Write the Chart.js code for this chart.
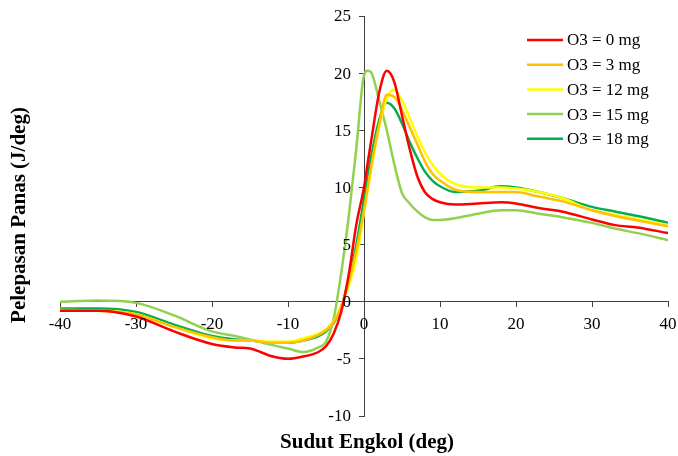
<!DOCTYPE html>
<html>
<head>
<meta charset="utf-8">
<script src="https://cdn.jsdelivr.net/npm/chart.js@4/dist/chart.umd.min.js"></script>
<style>
  html, body { margin: 0; padding: 0; background: #fff; }
</style>
</head>
<body>
<canvas id="heatChart" width="678" height="456"></canvas>
<script>
// crank angle (deg)
var angles = [-40,-35,-30,-25,-20,-17,-15,-12,-10,-8,-6,-5,-4,-3,-2,-1,0,0.5,1,2,3,4,5,6,7,8,9,10,12,15,18,20,23,26,30,33,36,40];

// heat release (J/deg) per ozone dose
var o3_0  = [-0.8,-0.8,-1.3,-2.6,-3.7,-4.0,-4.1,-4.8,-5.0,-4.8,-4.4,-3.9,-2.8,-0.9,2.4,6.8,10.0,12.2,14.3,18.3,20.2,19.2,16.3,13.4,11.0,9.6,9.0,8.7,8.5,8.6,8.7,8.6,8.2,7.9,7.2,6.7,6.5,6.0];
var o3_3  = [-0.7,-0.8,-1.1,-2.2,-3.1,-3.4,-3.4,-3.6,-3.6,-3.4,-2.9,-2.5,-1.8,-0.4,1.8,4.5,8.0,10.0,12.0,15.5,18.1,17.9,16.8,15.3,13.8,12.3,11.2,10.6,9.8,9.6,9.6,9.6,9.2,8.8,8.0,7.5,7.1,6.6];
var o3_12 = [-0.8,-0.8,-1.1,-2.2,-3.2,-3.4,-3.4,-3.5,-3.5,-3.2,-2.8,-2.4,-1.7,-0.5,1.4,3.8,7.8,9.8,11.8,15.3,17.8,18.55,17.6,16.1,14.5,13.1,12.0,11.2,10.3,10.0,10.0,9.9,9.6,9.1,8.0,7.6,7.2,6.7];
var o3_15 = [0.0,0.1,-0.1,-1.2,-2.6,-3.0,-3.3,-3.8,-4.1,-4.4,-4.0,-3.5,-1.5,2.5,7.5,13.5,19.8,20.2,20.0,17.6,15.0,12.0,9.5,8.6,7.9,7.4,7.15,7.15,7.3,7.7,8.0,8.0,7.7,7.4,6.9,6.4,6.0,5.4];
var o3_18 = [-0.6,-0.6,-0.9,-2.0,-3.0,-3.3,-3.4,-3.6,-3.6,-3.4,-3.0,-2.6,-1.9,-0.5,2.0,5.0,9.0,11.0,12.9,15.9,17.4,16.9,15.6,14.0,12.6,11.4,10.6,10.1,9.6,9.7,10.1,10.0,9.6,9.1,8.3,7.9,7.5,6.9];

var seriesLabels = ['O3 = 0 mg','O3 = 3 mg','O3 = 12 mg','O3 = 15 mg','O3 = 18 mg'];
var seriesColors = ['#ff0000','#ffc000','#ffff00','#92d050','#00b050'];
var seriesValues = [o3_0, o3_3, o3_12, o3_15, o3_18];

var datasets = [];
for (var i = 0; i < seriesValues.length; i++) {
  var pts = [];
  for (var j = 0; j < angles.length; j++) {
    pts.push({x: angles[j], y: seriesValues[i][j]});
  }
  datasets.push({
    label: seriesLabels[i],
    data: pts,
    borderColor: seriesColors[i],
    backgroundColor: seriesColors[i],
    borderWidth: 2.5,
    pointRadius: 0,
    cubicInterpolationMode: 'monotone',
    fill: false
  });
}

var serif = '"Liberation Serif", "Times New Roman", serif';

// tick labels, legend and axis titles drawn by hand
// (chart.js puts crossed-axis labels right on the line and pads the area for them)
var extras = {
  id: 'extras',
  afterDraw: function (chart) {
    var ctx = chart.ctx;
    var xs = chart.scales.x, ys = chart.scales.y;
    ctx.save();
    ctx.fillStyle = '#000';

    ctx.font = '17px ' + serif;
    ctx.textAlign = 'right';
    ctx.textBaseline = 'middle';
    ys.ticks.forEach(function (t) {
      ctx.fillText(String(t.value), 351, ys.getPixelForValue(t.value) + 1);
    });
    ctx.textAlign = 'center';
    var y0 = ys.getPixelForValue(0);
    xs.ticks.forEach(function (t) {
      ctx.fillText(String(t.value), xs.getPixelForValue(t.value), y0 + 23);
    });

    ctx.textAlign = 'left';
    chart.data.datasets.forEach(function (ds, k) {
      var y = 40 + k * 24.7;
      ctx.strokeStyle = ds.borderColor;
      ctx.lineWidth = 2.5;
      ctx.beginPath();
      ctx.moveTo(527, y);
      ctx.lineTo(563, y);
      ctx.stroke();
      ctx.fillText(ds.label, 567, y + 1);
    });

    ctx.font = 'bold 21px ' + serif;
    ctx.textAlign = 'center';
    ctx.fillText('Sudut Engkol (deg)', 367, 443);
    ctx.translate(20, 215);
    ctx.rotate(-Math.PI / 2);
    ctx.fillText('Pelepasan Panas (J/deg)', 0, 0);
    ctx.restore();
  }
};

new Chart(document.getElementById('heatChart'), {
  type: 'line',
  data: { datasets: datasets },
  plugins: [extras],
  options: {
    responsive: false,
    animation: false,
    devicePixelRatio: 1,
    layout: { padding: { left: 60, right: 10, top: 16, bottom: 40 } },
    plugins: {
      legend: { display: false },
      tooltip: { enabled: false }
    },
    scales: {
      x: {
        type: 'linear',
        min: -40,
        max: 40,
        position: { y: 0 },
        grid: { drawOnChartArea: false, drawTicks: true, tickLength: 5, color: '#404040' },
        border: { color: '#404040', width: 1 },
        ticks: { stepSize: 10, display: false }
      },
      y: {
        type: 'linear',
        min: -10,
        max: 25,
        position: { x: 0 },
        grid: { drawOnChartArea: false, drawTicks: true, tickLength: 5, color: '#404040' },
        border: { color: '#404040', width: 1 },
        ticks: { stepSize: 5, display: false }
      }
    }
  }
});
</script>
</body>
</html>
